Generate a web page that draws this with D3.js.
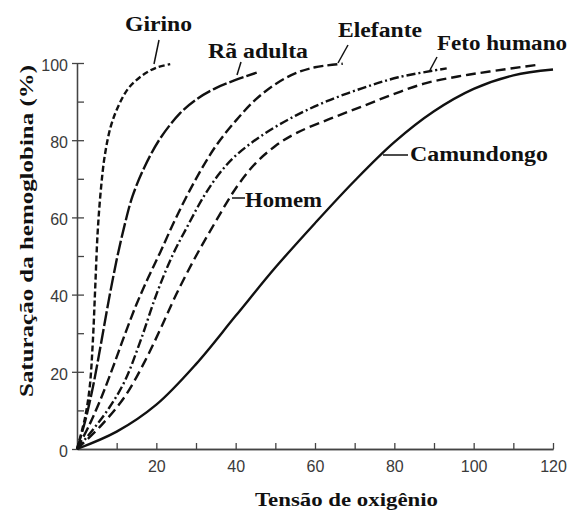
<!DOCTYPE html>
<html>
<head>
<meta charset="utf-8">
<script src="https://cdn.jsdelivr.net/npm/d3@7"></script>
<style>
  body { margin: 0; background: #fff; }
  .tick text { font-family: "Liberation Sans", Arial, sans-serif; font-size: 16px; fill: #3a3a3a; }
  .lbl { font-family: "Liberation Serif", "Times New Roman", serif; font-weight: bold; fill: #111; }
</style>
</head>
<body>
<div id="chart"></div>
<script>
// oxygen tension (x) vs hemoglobin saturation (y)
var girinoX = [0, 2, 3.2, 4, 4.6, 5.2, 6, 7, 8.5, 10.5, 13, 16.5, 20, 23.5];
var girinoY = [0, 8, 16, 28, 42, 56, 67, 76, 83.5, 89, 93.5, 96.8, 98.8, 99.7];

var raX = [0, 2, 4, 6, 8, 10, 12, 14, 17, 21, 26, 30, 35, 40, 45.3];
var raY = [0, 7, 16, 27, 38.5, 49, 58, 65.5, 73, 80.5, 87, 90.5, 93.5, 95.6, 97.5];

var elefanteX = [0, 3, 6, 9, 12, 15, 18, 21, 25, 30, 35, 40, 45, 50, 55, 60, 67];
var elefanteY = [0, 6, 13, 21, 29.5, 37.5, 44.5, 51, 60, 70, 78.5, 85, 90.5, 94.5, 97.3, 98.9, 99.8];

var fetoX = [0, 4, 8, 12, 16, 20, 24, 28, 32, 36, 40, 47, 55, 63, 72, 81, 93.2];
var fetoY = [0, 5, 10.5, 17.5, 28, 40, 50, 58, 65.5, 71.5, 76, 81.5, 86.3, 90.1, 93.5, 96.3, 98.6];

var homemX = [0, 6, 12, 17, 21, 25, 30, 35, 40, 45, 50, 55.4, 63.7, 72, 80, 88, 96, 104, 116];
var homemY = [0, 6, 13.5, 22.5, 31, 40, 50, 59, 67.5, 74, 78.5, 81.9, 85.5, 88.8, 92, 94.8, 96.5, 97.8, 99.5];

var camX = [0, 10, 20, 30, 40, 50, 60, 70, 80, 90, 100, 110, 120];
var camY = [0, 4.5, 11.5, 22, 34.5, 47, 58.5, 69.5, 79.5, 87.5, 93.3, 96.8, 98.3];

var seriesNames = ["Girino", "Rã adulta", "Elefante", "Feto humano", "Homem", "Camundongo"];

var xTickValues = [20, 40, 60, 80, 100, 120];
var yTickValues = [0, 20, 40, 60, 80, 100];

var svgWidth = 573;
var svgHeight = 511;

var svg = d3.select("#chart")
    .append("svg")
    .attr("width", svgWidth)
    .attr("height", svgHeight);

var xScale = d3.scaleLinear().domain([0, 120]).range([77, 553]);
var yScale = d3.scaleLinear().domain([0, 100]).range([449, 63]);

var axisColor = "#444";

// x axis: ticks every 10 pointing up, labels on the majors
var xMinor = svg.append("g")
    .attr("transform", "translate(0,449)")
    .call(d3.axisBottom(xScale).tickValues(d3.range(10, 121, 10)).tickSize(-6).tickFormat("").tickSizeOuter(0));
var xAxis = svg.append("g")
    .attr("transform", "translate(0,449)")
    .call(d3.axisBottom(xScale).tickValues(xTickValues).tickSize(0).tickPadding(12).tickSizeOuter(0));

// y axis: majors outward, every 10 inward
var yMinor = svg.append("g")
    .attr("transform", "translate(77,0)")
    .call(d3.axisLeft(yScale).tickValues(d3.range(10, 101, 10)).tickSize(-7).tickFormat("").tickSizeOuter(0));
var yAxis = svg.append("g")
    .attr("transform", "translate(77,0)")
    .call(d3.axisLeft(yScale).tickValues(yTickValues).tickSize(5).tickPadding(4).tickSizeOuter(0));

[xMinor, xAxis, yMinor, yAxis].forEach(function (g) {
    g.selectAll("path, line").attr("stroke", axisColor).attr("stroke-width", 1.3);
});
yAxis.selectAll(".tick text").attr("dy", "0.45em");

// curves
var styles = [
    { xs: girinoX, ys: girinoY, dash: "6,3" },
    { xs: raX, ys: raY, dash: "15,3" },
    { xs: elefanteX, ys: elefanteY, dash: "10,4" },
    { xs: fetoX, ys: fetoY, dash: "9,3,2,3" },
    { xs: homemX, ys: homemY, dash: "10,5" },
    { xs: camX, ys: camY, dash: null }
];

var line = d3.line()
    .x(d => xScale(d[0]))
    .y(d => yScale(d[1]))
    .curve(d3.curveCatmullRom.alpha(0.5));

styles.forEach(function (s) {
    var pts = s.xs.map((x, i) => [x, s.ys[i]]);
    svg.append("path")
        .datum(pts)
        .attr("d", line)
        .attr("fill", "none")
        .attr("stroke", "#111")
        .attr("stroke-width", 2.4)
        .attr("stroke-dasharray", s.dash);
});

// curve labels with leader lines
var labels = [
    { x: 125, y: 31, w: 67, leader: [159, 40, 154, 64] },
    { x: 208, y: 58, w: 100, leader: [241, 62, 237, 75] },
    { x: 338, y: 37, w: 84, leader: [348, 45, 338, 63] },
    { x: 437, y: 50, w: 130, leader: [437, 57, 430, 70] },
    { x: 245, y: 207, w: 77, leader: [232, 198, 245, 198] },
    { x: 410, y: 161, w: 138, leader: [383, 155, 408, 155] }
];

labels.forEach(function (l, i) {
    svg.append("text")
        .attr("class", "lbl")
        .attr("x", l.x)
        .attr("y", l.y)
        .attr("font-size", "20px")
        .attr("textLength", l.w)
        .attr("lengthAdjust", "spacingAndGlyphs")
        .text(seriesNames[i]);
    svg.append("line")
        .attr("x1", l.leader[0]).attr("y1", l.leader[1])
        .attr("x2", l.leader[2]).attr("y2", l.leader[3])
        .attr("stroke", "#111")
        .attr("stroke-width", 1.5);
});

// axis titles
svg.append("text")
    .attr("class", "lbl")
    .attr("x", 255)
    .attr("y", 506)
    .attr("font-size", "19px")
    .attr("textLength", 183)
    .attr("lengthAdjust", "spacingAndGlyphs")
    .text("Tensão de oxigênio");

svg.append("text")
    .attr("class", "lbl")
    .attr("transform", "translate(33,397) rotate(-90)")
    .attr("font-size", "19px")
    .attr("textLength", 332)
    .attr("lengthAdjust", "spacingAndGlyphs")
    .text("Saturação da hemoglobina  (%)");
</script>
</body>
</html>
